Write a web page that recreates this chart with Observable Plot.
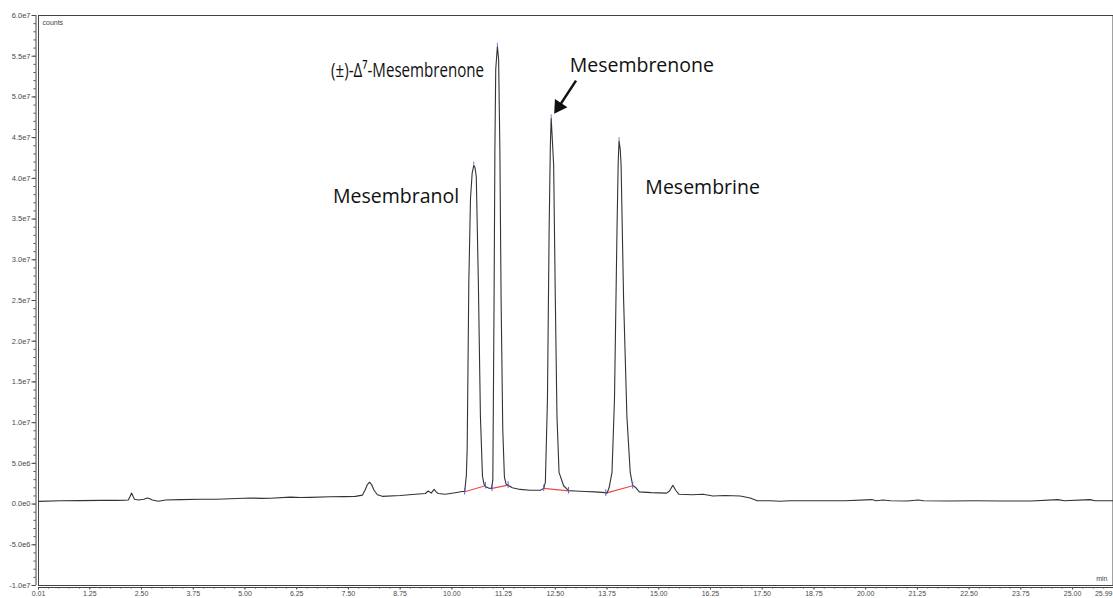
<!DOCTYPE html>
<html>
<head>
<meta charset="utf-8">
<script src="https://cdn.jsdelivr.net/npm/d3@7"></script>
<script src="https://cdn.jsdelivr.net/npm/@observablehq/plot@0.6"></script>
<style>
  html, body { margin: 0; padding: 0; background: #fff; }
  #chart svg { display: block; }
</style>
</head>
<body>
<div id="chart"></div>
<script>
// Retention time (min)
const time = [
  0.01, 0.54, 1.0, 1.51, 1.9, 2.11, 2.18, 2.22, 2.26, 2.30, 2.33, 2.43, 2.55, 2.64, 2.70, 2.76, 2.91, 3.08,
  3.44, 3.92, 4.3, 4.65, 5.13, 5.4, 5.61, 6.10, 6.35, 6.58, 7.06, 7.4, 7.67, 7.84, 7.90, 7.96, 8.01, 8.06,
  8.12, 8.20, 8.32, 8.75, 9.12, 9.36, 9.43, 9.50, 9.57, 9.62, 9.67, 9.84, 10.08, 10.25,
  10.31, 10.35, 10.37, 10.41, 10.45, 10.49, 10.53, 10.56, 10.59, 10.61, 10.64, 10.69, 10.74, 10.78, 10.83, 10.90, 10.96,
  10.99, 11.02, 11.04, 11.06, 11.10, 11.13, 11.16, 11.19, 11.23, 11.27, 11.31, 11.36, 11.46, 11.65, 11.89, 12.14,
  12.22, 12.26, 12.31, 12.35, 12.38, 12.40, 12.42, 12.46, 12.50, 12.54, 12.59, 12.70, 12.82, 12.98, 13.22, 13.46, 13.70,
  13.75, 13.80, 13.87, 13.93, 13.99, 14.02, 14.04, 14.07, 14.09, 14.15, 14.23, 14.31, 14.37, 14.45, 14.53, 14.82,
  15.19, 15.26, 15.34, 15.41, 15.49, 15.80, 16.07, 16.31, 16.60, 16.97, 17.21, 17.38, 17.69, 17.93, 18.17, 18.8,
  19.5, 20.15, 20.25, 20.42, 20.6, 21.0, 21.27, 21.4, 22.0, 22.6, 23.3, 24.0, 24.65, 24.8, 25.42, 25.55, 25.99
];
// Detector response (counts)
const counts = [
  0.33e6, 0.4e6, 0.42e6, 0.45e6, 0.45e6, 0.47e6, 0.5e6, 0.9e6, 1.35e6, 0.9e6, 0.6e6, 0.5e6, 0.6e6, 0.75e6, 0.65e6, 0.5e6, 0.35e6, 0.5e6,
  0.55e6, 0.6e6, 0.6e6, 0.65e6, 0.75e6, 0.7e6, 0.72e6, 0.85e6, 0.8e6, 0.82e6, 0.9e6, 0.92e6, 0.95e6, 1.1e6, 1.7e6, 2.4e6, 2.7e6, 2.4e6,
  1.7e6, 1.15e6, 0.95e6, 1.05e6, 1.2e6, 1.3e6, 1.6e6, 1.35e6, 1.8e6, 1.5e6, 1.3e6, 1.2e6, 1.4e6, 1.55e6,
  1.55e6, 3.5e6, 6.8e6, 27.3e6, 37.5e6, 40.6e6, 41.6e6, 41.3e6, 40.2e6, 35e6, 27.3e6, 10.8e6, 3.4e6, 2.4e6, 2.1e6, 1.95e6, 1.93e6,
  3e6, 25e6, 43.6e6, 53.4e6, 56.2e6, 54.6e6, 43.6e6, 25e6, 9.2e6, 3.3e6, 2.45e6, 2.3e6, 2.0e6, 1.8e6, 1.7e6, 1.7e6,
  1.93e6, 2.7e6, 12.9e6, 33.4e6, 44e6, 47.4e6, 45.5e6, 41.6e6, 25.2e6, 10.8e6, 3.9e6, 2.25e6, 1.65e6, 1.6e6, 1.55e6, 1.5e6, 1.4e6,
  1.35e6, 2.0e6, 3.9e6, 12.9e6, 33.4e6, 42e6, 44.6e6, 43.5e6, 41.6e6, 25.2e6, 10.8e6, 3.9e6, 2.3e6, 2.0e6, 1.5e6, 1.4e6,
  1.35e6, 1.6e6, 2.3e6, 1.7e6, 1.2e6, 1.15e6, 1.2e6, 1.0e6, 1.05e6, 1.0e6, 0.75e6, 0.4e6, 0.4e6, 0.35e6, 0.4e6, 0.4e6,
  0.4e6, 0.55e6, 0.4e6, 0.5e6, 0.4e6, 0.38e6, 0.5e6, 0.4e6, 0.37e6, 0.4e6, 0.38e6, 0.37e6, 0.55e6, 0.4e6, 0.55e6, 0.4e6, 0.4e6
];
// Integration baselines (start/end of each peak)
const baseStartT = [10.31, 10.97, 12.22, 13.72];
const baseStartV = [1.51e6, 1.93e6, 1.93e6, 1.35e6];
const baseEndT   = [10.81, 11.36, 12.82, 14.37];
const baseEndV   = [2.25e6, 2.33e6, 1.63e6, 2.25e6];
// Peak apexes
const apexT = [10.53, 11.10, 12.40, 14.04];
const apexV = [41.6e6, 56.2e6, 47.4e6, 44.6e6];
// Compound names
const compounds = ["Mesembranol", "(±)-Δ⁷-Mesembrenone", "Mesembrenone", "Mesembrine"];
// Axis ticks
const yTicks = [-1e7, -5e6, 0, 5e6, 1e7, 1.5e7, 2e7, 2.5e7, 3e7, 3.5e7, 4e7, 4.5e7, 5e7, 5.5e7, 6e7];
const xTicks = [0.01, 1.25, 2.5, 3.75, 5, 6.25, 7.5, 8.75, 10, 11.25, 12.5, 13.75, 15, 16.25, 17.5, 18.75, 20, 21.25, 22.5, 23.75, 25, 25.99];

const trace = time.map((t, i) => ({t, v: counts[i]}));
const segs = baseStartT.map((t, i) => ({t1: t, v1: baseStartV[i], t2: baseEndT[i], v2: baseEndV[i]}));
const markers = [];
segs.forEach(s => { markers.push({t: s.t1, v: s.v1}); markers.push({t: s.t2, v: s.v2}); });
const apexes = apexT.map((t, i) => ({t, v: apexV[i]}));

const yMinor = d3.range(-1e7, 6e7 + 1, 1e6);
const xMinor = d3.range(0.25, 26, 0.25);
const xEnd = xTicks[xTicks.length - 1];

const yFmt = d => d === 0 ? "0.0e0" : d.toExponential(1).replace("e+", "e");
const xFmt = d => d === 0.01 ? "0.01" : d.toFixed(2);

const labelFont = "Open Sans";
const axisFont = "Liberation Sans, Arial, sans-serif";
const axisGrey = "#4a4a4a";

const chart = Plot.plot({
  width: 1113,
  height: 598,
  marginLeft: 38,
  marginTop: 15,
  marginBottom: 13,
  marginRight: 0,
  style: {fontFamily: axisFont, background: "#fff", color: axisGrey},
  x: {domain: [0.01, xEnd]},
  y: {domain: [-1e7, 6e7]},
  marks: [
    // frame
    Plot.ruleY([6e7], {stroke: "#444", strokeWidth: 1}),
    Plot.ruleX([xEnd], {stroke: "#444", strokeWidth: 1, dx: -0.5}),
    Plot.ruleX([0.01], {stroke: "#444", strokeWidth: 1}),
    Plot.ruleX([0.01], {stroke: "#444", strokeWidth: 1, dx: -2.5}),
    Plot.ruleY([-1e7], {stroke: "#444", strokeWidth: 1}),
    Plot.ruleY([-1e7], {stroke: "#444", strokeWidth: 1, dy: 2}),
    // y axis
    Plot.axisY(yTicks, {tickSize: 4, tickPadding: 1.5, tickFormat: yFmt, fontSize: 7.5, dx: -2.5}),
    Plot.axisY(yMinor, {tickSize: 2, tickFormat: () => "", dx: -2.5}),
    // x axis ticks
    Plot.axisX(xTicks, {tickSize: 2.5, tickFormat: () => "", dy: 2}),
    Plot.axisX(xMinor, {tickSize: 1.5, tickFormat: () => "", dy: 2}),
    // x axis labels (bottom edge of svg)
    Plot.text(xTicks.slice(0, -1), {x: d => d, y: -1e7, text: xFmt, lineAnchor: "bottom", dy: 10.5, fontSize: 7, fill: axisGrey}),
    Plot.text([xEnd], {x: d => d, y: -1e7, text: xFmt, lineAnchor: "bottom", textAnchor: "end", dx: -1, dy: 10.5, fontSize: 7, fill: axisGrey}),
    Plot.text(["counts"], {frameAnchor: "top-left", dx: 4, dy: 5, fontSize: 7, fill: "#444", textAnchor: "start"}),
    Plot.text(["min"], {frameAnchor: "bottom-right", dx: -6, dy: -5, fontSize: 7, fill: "#444", textAnchor: "end"}),
    // integration baselines
    Plot.link(segs, {x1: "t1", y1: "v1", x2: "t2", y2: "v2", stroke: "#f04848", strokeWidth: 1.2}),
    // trace
    Plot.line(trace, {x: "t", y: "v", stroke: "#333", strokeWidth: 1.1}),
    // markers
    Plot.ruleX(markers, {x: "t", y1: d => d.v - 4e5, y2: d => d.v + 4e5, stroke: "#5a5ad8", strokeWidth: 1}),
    Plot.ruleX(apexes, {x: "t", y1: d => d.v, y2: d => d.v + 4e5, stroke: "#7a7ae0", strokeWidth: 1}),
    // annotations
    Plot.text([compounds[0]], {x: 8.65, y: 37.8e6, fontSize: 19.5, fontFamily: labelFont, fill: "#111"}),
    Plot.text([compounds[1]], {x: 8.93, y: 53.2e6, fontSize: 19.5, fontFamily: labelFont, fill: "#111", className: "delta-label"}),
    Plot.text([compounds[2]], {x: 14.59, y: 53.8e6, fontSize: 19.5, fontFamily: labelFont, fill: "#111"}),
    Plot.text([compounds[3]], {x: 16.06, y: 38.9e6, fontSize: 19.5, fontFamily: labelFont, fill: "#111"}),
    Plot.link([0], {x1: 13.0, y1: 52.0e6, x2: 12.60, y2: 48.9e6, stroke: "#111", strokeWidth: 2.5}),
    Plot.dot([0], {x: 12.585, y: 48.8e6, symbol: "triangle", r: 5.5, fill: "#111", stroke: "none", rotate: -147})
  ]
});
document.getElementById("chart").appendChild(chart);
// The Δ⁷ label is set narrower in the reference
const dl = chart.querySelector(".delta-label text");
if (dl) { dl.setAttribute("textLength", "153"); dl.setAttribute("lengthAdjust", "spacingAndGlyphs"); }
</script>
</body>
</html>
